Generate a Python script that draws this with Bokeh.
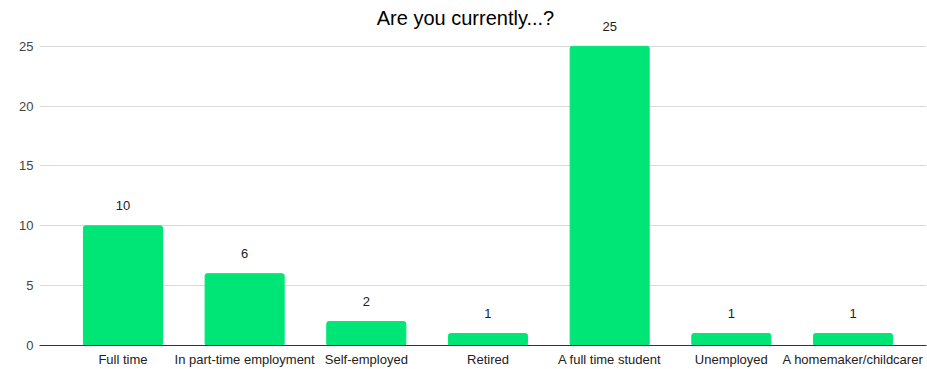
from bokeh.plotting import figure
from bokeh.models import ColumnDataSource, Label, FixedTicker, Range1d
from bokeh.embed import file_html
from bokeh.resources import INLINE

categories = ["Full time", "In part-time employment", "Self-employed", "Retired",
              "A full time student", "Unemployed", "A homemaker/childcarer"]
counts = [10, 6, 2, 1, 25, 1, 1]
y_ticks = [0, 5, 10, 15, 20, 25]
title_text = "Are you currently...?"

FONT = "Liberation Sans"
xs = list(range(len(categories)))
src = ColumnDataSource(dict(x=xs, top=counts, label=[str(c) for c in counts]))

p = figure(width=927, height=369, output_backend="svg", toolbar_location=None,
           x_range=Range1d(-0.686, 6.604), y_range=Range1d(0, 28.83),
           min_border_left=39, min_border_right=1, min_border_top=0, min_border_bottom=0)
p.outline_line_color = None
p.background_fill_color = "white"
p.border_fill_color = "white"

p.vbar(x="x", top="top", width=0.65, source=src, color="#00E676", border_radius=2)
p.text(x="x", y="top", text="label", source=src, text_align="center",
       text_baseline="middle", y_offset=-20, text_font_size="13px",
       text_color="#222222", text_font={"value": FONT})

# axes
p.xaxis.ticker = FixedTicker(ticks=xs)
p.xaxis.major_label_overrides = {i: c for i, c in enumerate(categories)}
p.xaxis.major_tick_line_color = None
p.xaxis.major_tick_out = 0
p.xaxis.major_tick_in = 0
p.xaxis.minor_tick_line_color = None
p.xaxis.axis_line_color = "#333333"
p.xaxis.major_label_text_font = FONT
p.xaxis.major_label_text_font_size = "13px"
p.xaxis.major_label_text_color = "#222222"
p.xaxis.major_label_standoff = 6
p.xgrid.grid_line_color = None

p.yaxis.ticker = FixedTicker(ticks=y_ticks)
p.yaxis.major_tick_line_color = None
p.yaxis.major_tick_out = 0
p.yaxis.major_tick_in = 0
p.yaxis.minor_tick_line_color = None
p.yaxis.axis_line_color = None
p.yaxis.major_label_text_font = FONT
p.yaxis.major_label_text_font_size = "13px"
p.yaxis.major_label_text_color = "#444444"
p.yaxis.major_label_standoff = 6
p.ygrid.grid_line_color = "#d9d9d9"

p.add_layout(Label(x=426, y=328, x_units="screen", y_units="screen", text=title_text,
                   text_align="center", text_baseline="middle", text_font=FONT,
                   text_font_size="20px", text_color="#000000"))

open("out.html", "w").write(file_html(p, INLINE))
